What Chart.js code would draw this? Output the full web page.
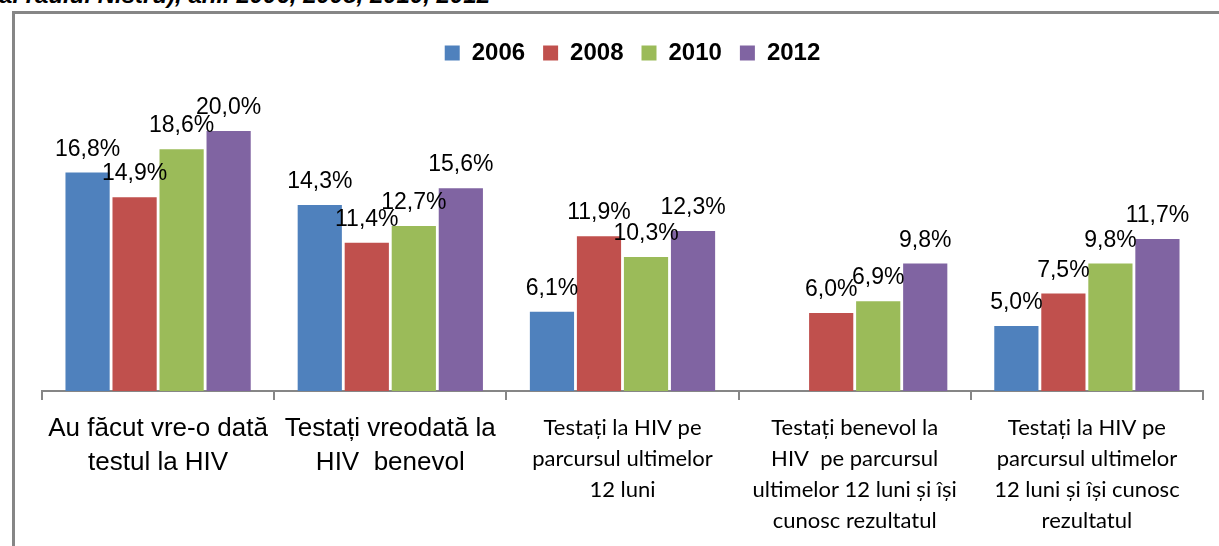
<!DOCTYPE html>
<html>
<head>
<meta charset="utf-8">
<script src="https://cdn.jsdelivr.net/npm/chart.js@4"></script>
<style>
    body { margin: 0; background: #fff; width: 1219px; height: 546px; overflow: hidden; position: relative; }
    #caption { position: absolute; right: 729px; top: -17px; font: italic bold 24px "Liberation Sans", Arial, sans-serif; line-height: 24px; white-space: nowrap; text-align: right; }
    #frame { position: absolute; left: 12px; top: 11px; width: 1207px; height: 535px; border-left: 3px solid #868686; border-top: 3px solid #868686; }
</style>
</head>
<body>
<div id="caption">(malul stâng al râului Nistru), anii 2006, 2008, 2010, 2012</div>
<div id="frame"><canvas id="hivChart" width="1204" height="532"></canvas></div>
<script>
// categories (multi-line labels) and values per year
const categories = [
    ["Au făcut vre-o dată", "testul la HIV"],
    ["Testați vreodată la", "HIV  benevol"],
    ["Testați la HIV pe", "parcursul ultimelor", "12 luni"],
    ["Testați benevol la", "HIV  pe parcursul", "ultimelor 12 luni și își", "cunosc rezultatul"],
    ["Testați la HIV pe", "parcursul ultimelor", "12 luni și își cunosc", "rezultatul"]
];
const years = ["2006", "2008", "2010", "2012"];
const v2006 = [16.8, 14.3, 6.1, null, 5.0];
const v2008 = [14.9, 11.4, 11.9, 6.0, 7.5];
const v2010 = [18.6, 12.7, 10.3, 6.9, 9.8];
const v2012 = [20.0, 15.6, 12.3, 9.8, 11.7];
const colors = ["#4F81BD", "#C0504D", "#9BBB59", "#8064A2"];

const series = [v2006, v2008, v2010, v2012];

// value labels above each bar, Excel style "16,8%"
const barLabels = {
    id: "barLabels",
    afterDatasetsDraw(chart) {
        const ctx = chart.ctx;
        ctx.save();
        ctx.font = "23px 'Liberation Sans', Arial, sans-serif";
        ctx.fillStyle = "#000";
        ctx.textAlign = "center";
        ctx.textBaseline = "alphabetic";
        chart.data.datasets.forEach((ds, i) => {
            chart.getDatasetMeta(i).data.forEach((bar, j) => {
                const val = ds.data[j];
                if (val == null) return;
                ctx.fillText(val.toFixed(1).replace(".", ",") + "%", bar.x, bar.y - 17);
            });
        });
        ctx.restore();
    }
};

// pull the plot area a bit closer to the legend, nudge legend right
const legendTight = {
    id: "legendTight",
    beforeInit(chart) {
        const origFit = chart.legend.fit;
        chart.legend.fit = function () {
            origFit.bind(chart.legend)();
            this.height -= 9;
        };
    },
    afterLayout(chart) {
        chart.legend.left += 10;
        chart.legend.right += 10;
    }
};

new Chart(document.getElementById("hivChart"), {
    type: "bar",
    data: {
        labels: categories,
        datasets: series.map((data, i) => ({
            label: years[i],
            data: data,
            backgroundColor: colors[i],
            borderWidth: 0,
            categoryPercentage: 0.81,
            barPercentage: 0.94
        }))
    },
    options: {
        responsive: false,
        animation: false,
        layout: { padding: { top: 9, left: 27, right: 16, bottom: 0 } },
        plugins: {
            tooltip: { enabled: false },
            legend: {
                position: "top",
                labels: {
                    boxWidth: 15,
                    boxHeight: 15,
                    padding: 18,
                    color: "#000",
                    font: { family: "'Liberation Sans', Arial, sans-serif", size: 24, weight: "bold" }
                }
            }
        },
        scales: {
            x: {
                grid: { drawOnChartArea: false, drawTicks: true, tickLength: 9, color: "#868686", lineWidth: 2, offset: true },
                border: { color: "#868686", width: 2 },
                ticks: {
                    padding: 12,
                    color: "#000",
                    maxRotation: 0,
                    autoSkip: false,
                    font: (c) => c.index < 2
                        ? { family: "'Liberation Sans', Arial, sans-serif", size: 26, lineHeight: 1.3 }
                        : { family: "Lato, 'Open Sans', sans-serif", size: 22, lineHeight: 1.42 }
                },
                afterFit: (s) => { s.height = 155; }
            },
            y: {
                display: false,
                min: 0,
                max: 25
            }
        }
    },
    plugins: [barLabels, legendTight]
});
</script>
</body>
</html>
